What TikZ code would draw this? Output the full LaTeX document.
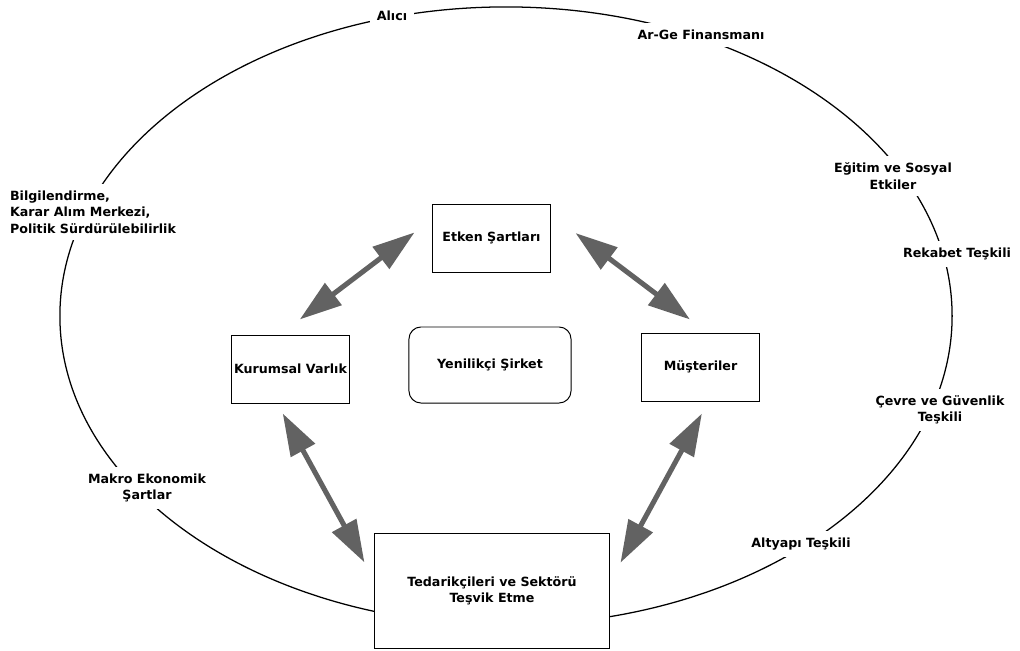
\documentclass[tikz,border=0pt]{standalone}
\usepackage{fontspec}
\setmainfont{DejaVu Sans}
\usetikzlibrary{arrows.meta}
\definecolor{arrowgray}{RGB}{98,98,98}
\begin{document}
\begin{tikzpicture}[x=0.025cm,y=-0.025cm,
  lbl/.style={font=\bfseries\fontsize{9}{11.7}\selectfont, fill=white, inner sep=5pt, align=center},
  box/.style={draw, line width=0.7pt, fill=white, font=\bfseries\fontsize{9}{11.7}\selectfont, inner sep=0pt, align=center},
  dbl/.style={arrowgray, line width=3.6pt, {Triangle[length=30pt,width=19pt]}-{Triangle[length=30pt,width=19pt]}},
  ring/.style={line width=0.9pt}]
\useasboundingbox (0,0) rectangle (1020,651);

% outer ring
\draw[ring] (506,316) ellipse [x radius=11.15cm, y radius=7.725cm];

% ring labels
\node[lbl] (alici) at (392,16) {Alıcı};
\node[lbl] (arge) at (701,35) {Ar-Ge Finansmanı};
\node[lbl] (egitim) at (893,176) {Eğitim ve Sosyal\\Etkiler};
\node[lbl] (rekabet) at (957,254) {Rekabet Teşkili};
\node[lbl] (cevre) at (940,410) {Çevre ve Güvenlik\\Teşkili};
\node[lbl] (altyapi) at (801,544) {Altyapı Teşkili};
\node[lbl] (makro) at (147,488) {Makro Ekonomik\\Şartlar};
\node[lbl, align=left] (bilgi) at (93,212) {Bilgilendirme,\\Karar Alım Merkezi,\\Politik Sürdürülebilirlik};

% boxes
\node[box, minimum width=2.925cm, minimum height=1.7cm] (etken) at (491.5,238) {Etken Şartları};
\node[box, minimum width=2.925cm, minimum height=1.7cm] (kurumsal) at (290.5,369) {Kurumsal Varlık};
\node[box, minimum width=2.925cm, minimum height=1.7cm] (mus) at (700.5,367) {Müşteriler};
\node[box, rounded corners=0.3cm, minimum width=4.05cm, minimum height=1.9cm] (yenilikci) at (490,365) {Yenilikçi Şirket};
\node[box, minimum width=5.85cm, minimum height=2.85cm] (tedarik) at (492,591) {Tedarikçileri ve Sektörü\\Teşvik Etme};

% arrows
\draw[dbl, shorten <=0.565cm, shorten >=0.6225cm] (etken.162) -- (kurumsal.107);
\draw[dbl, shorten <=0.785cm, shorten >=0.54cm] (etken.22) -- (mus.79);
\draw[dbl, shorten <=0.285cm, shorten >=0.5225cm] (kurumsal.249) -- (tedarik.175);
\draw[dbl, shorten <=0.3425cm, shorten >=0.5725cm] (mus.283) -- (tedarik.4);
\end{tikzpicture}
\end{document}
